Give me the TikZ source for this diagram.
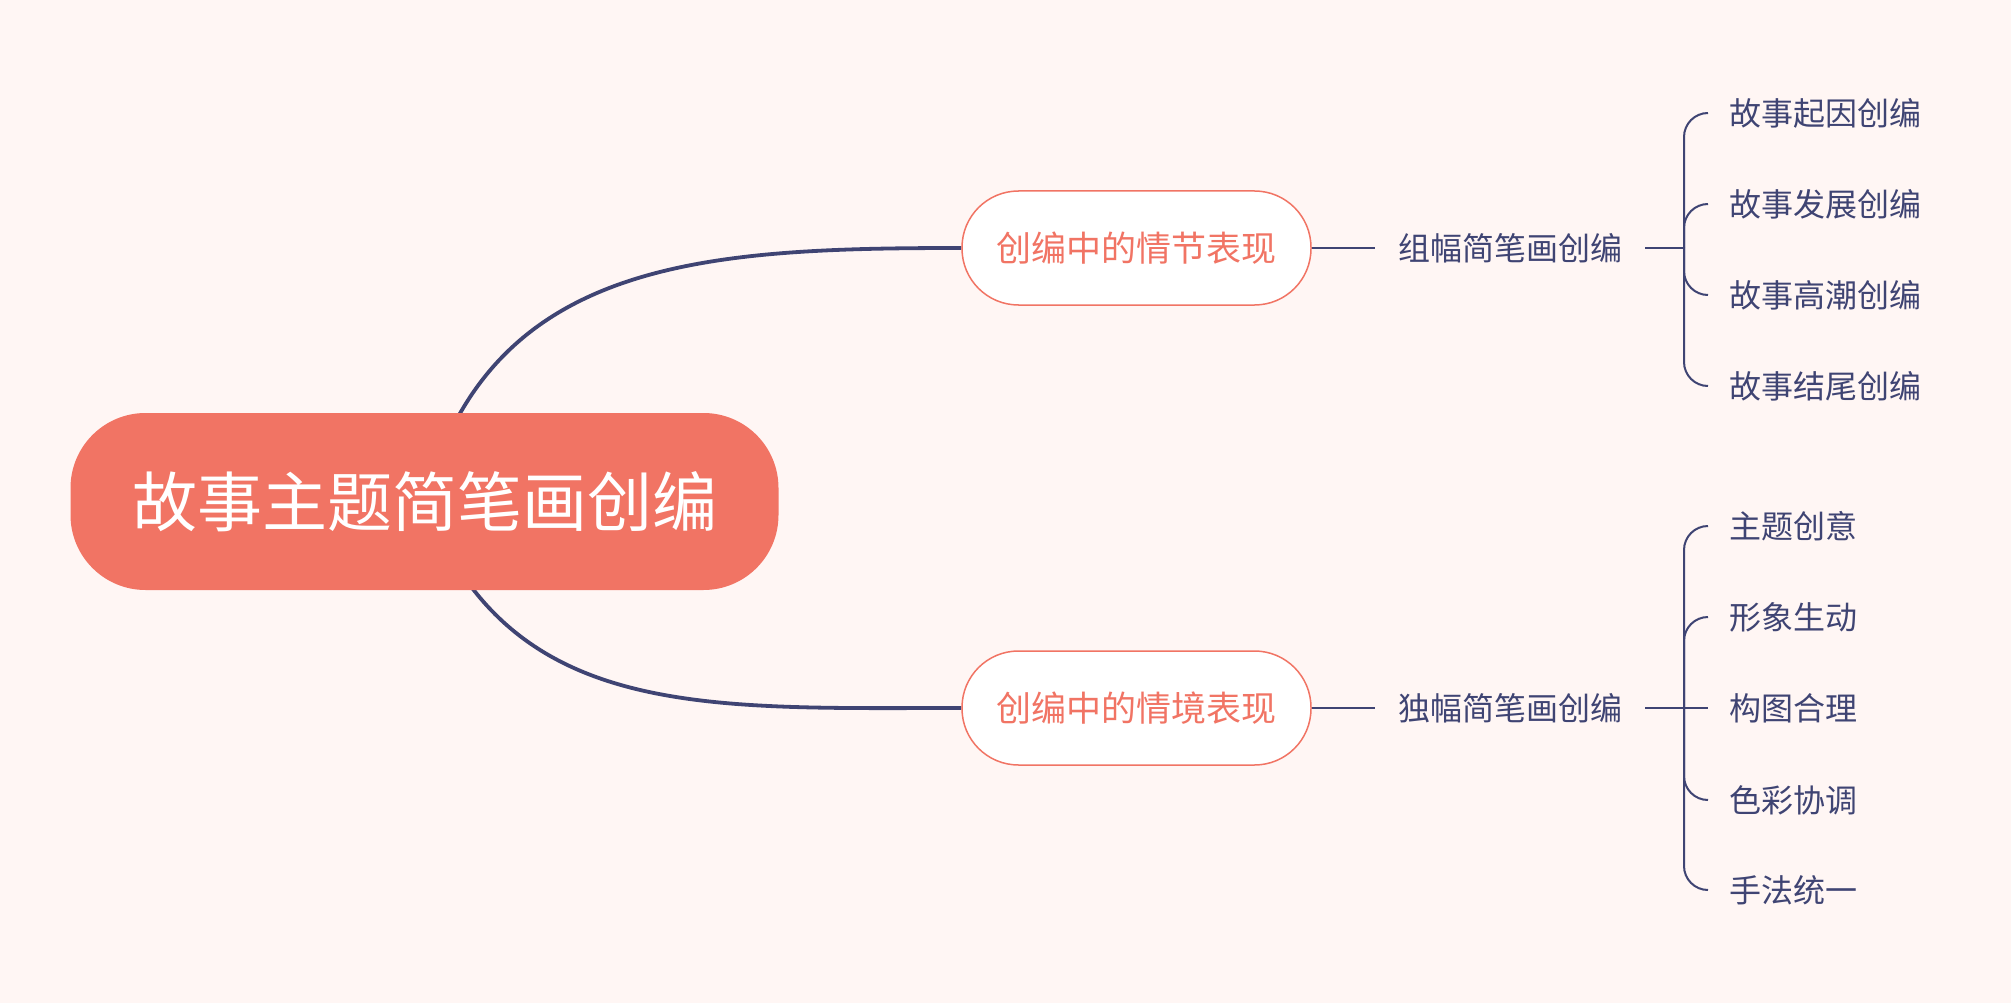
\documentclass[tikz,border=0pt]{standalone}
\usepackage{fontspec}
\setmainfont{Noto Sans CJK SC}
\definecolor{bgc}{RGB}{255,246,244}
\definecolor{salmon}{RGB}{241,116,100}
\definecolor{navy}{RGB}{63,68,115}
\pgfdeclarelayer{back}
\pgfdeclarelayer{bg}
\pgfsetlayers{back,bg,main}
\begin{document}
\begin{tikzpicture}[x=1pt,y=-1pt,
  rootbox/.style={fill=salmon, rounded corners=75pt, minimum width=708pt, minimum height=177pt,
    text=white, font=\fontsize{65}{65}\selectfont, inner sep=0pt},
  branchbox/.style={draw=salmon, line width=1.5pt, fill=white, rounded corners=56.5pt,
    minimum width=349pt, minimum height=114pt, text=salmon, font=\fontsize{35}{35}\selectfont, inner sep=0pt},
  subbox/.style={text=navy, font=\fontsize{32}{32}\selectfont, inner xsep=23pt, inner ysep=4pt},
  leafbox/.style={text=navy, font=\fontsize{32}{32}\selectfont, inner xsep=21pt, inner ysep=4pt, anchor=west},
  mainline/.style={draw=navy, line width=3.8pt},
  thinline/.style={draw=navy, line width=2.2pt},
  braceline/.style={draw=navy, line width=2pt, rounded corners=24pt}
]
\useasboundingbox (0,0) rectangle (2011,1003);
\begin{pgfonlayer}{back}
\fill[bgc] (0,0) rectangle (2011,1003);
\end{pgfonlayer}

\node[rootbox] (root) at (424.5,501.5) {故事主题简笔画创编};
\node[branchbox] (b1) at (1136.5,248) {创编中的情节表现};
\node[branchbox] (b2) at (1136.5,708) {创编中的情境表现};
\node[subbox] (s1) at (1510,248) {组幅简笔画创编};
\node[subbox] (s2) at (1510,708) {独幅简笔画创编};
\coordinate (j1) at (1684,248);
\coordinate (j2) at (1684,708);

\node[leafbox] (l1) at (1708,113) {故事起因创编};
\node[leafbox] (l2) at (1708,204) {故事发展创编};
\node[leafbox] (l3) at (1708,295) {故事高潮创编};
\node[leafbox] (l4) at (1708,386) {故事结尾创编};

\node[leafbox] (m1) at (1708,526) {主题创意};
\node[leafbox] (m2) at (1708,617) {形象生动};
\node[leafbox] (m3) at (1708,708) {构图合理};
\node[leafbox] (m4) at (1708,800) {色彩协调};
\node[leafbox] (m5) at (1708,890) {手法统一};

\begin{pgfonlayer}{bg}
\draw[mainline] (root.center) .. controls (490,260) and (700,248) .. (b1.west);
\draw[mainline] (root.center) .. controls (510,720) and (700,708) .. (b2.west);
\end{pgfonlayer}

\draw[thinline] (b1.east) -- (s1.west);
\draw[thinline] (b2.east) -- (s2.west);
\draw[thinline] (s1.east) -- (j1);
\draw[thinline] (s2.east) -- (j2);

\foreach \n in {l1,l2,l3,l4}{
  \draw[braceline] (j1) |- (\n.west);
}
\foreach \n in {m1,m2,m4,m5}{
  \draw[braceline] (j2) |- (\n.west);
}
\draw[braceline] (j2) -- (m3.west);
\end{tikzpicture}
\end{document}
